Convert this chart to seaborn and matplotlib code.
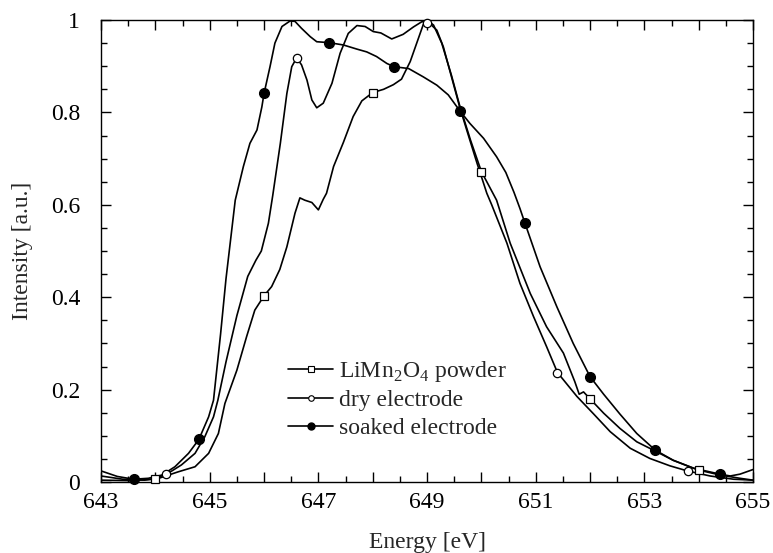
import numpy as np
import pandas as pd
import matplotlib
matplotlib.use('Agg')
import matplotlib.pyplot as plt
from matplotlib.lines import Line2D
from matplotlib.ticker import MultipleLocator, FuncFormatter
import seaborn as sns

# Curvas
soaked_e = [643.0, 643.3, 643.6, 643.87, 644.12, 644.36, 644.61, 644.8, 644.98, 645.07,
            645.2, 645.3, 645.47, 645.62, 645.74, 645.87, 645.96, 646.0, 646.11, 646.2,
            646.33, 646.48, 646.57, 646.69, 646.85, 646.97, 647.2, 647.46, 647.71, 647.89,
            648.07, 648.26, 648.39, 648.66, 648.93, 649.18, 649.39, 649.6, 649.79, 650.04,
            650.28, 650.45, 650.6, 650.71, 650.8, 651.08, 651.39, 651.69, 652.0, 652.25, 652.55,
            652.86, 653.2, 653.53, 653.9, 654.39, 654.58, 654.76, 655.0]
soaked_i = [0.024, 0.012, 0.006, 0.008, 0.015, 0.033, 0.062, 0.092, 0.141, 0.177,
            0.32, 0.44, 0.61, 0.683, 0.733, 0.762, 0.812, 0.841, 0.899, 0.95,
            0.986, 0.998, 0.997, 0.982, 0.964, 0.953, 0.951, 0.946, 0.937, 0.931,
            0.921, 0.906, 0.899, 0.895, 0.877, 0.859, 0.838, 0.804, 0.776, 0.744,
            0.704, 0.67, 0.627, 0.592, 0.561, 0.466, 0.379, 0.30, 0.228, 0.19, 0.147,
            0.105, 0.069, 0.047, 0.03, 0.017, 0.013, 0.017, 0.027]

dry_e = [643.0, 643.4, 643.8, 644.0, 644.21, 644.48, 644.73, 644.91, 645.07, 645.15,
         645.3, 645.5, 645.7, 645.85, 645.95, 646.08, 646.16, 646.3, 646.42, 646.51,
         646.6, 646.69, 646.79, 646.88, 646.97, 647.09, 647.25, 647.4, 647.55, 647.71,
         647.86, 648.01, 648.15, 648.35, 648.56, 648.75, 648.9, 649.0, 649.18, 649.3,
         649.45, 649.6, 649.73, 649.92, 650.1, 650.19, 650.47, 650.71, 650.96, 651.2,
         651.4, 651.76, 652.06, 652.37, 652.74, 653.1, 653.47, 653.79, 654.21, 654.64, 655.0]
dry_i = [0.013, 0.006, 0.004, 0.008, 0.017, 0.037, 0.062, 0.098, 0.141, 0.177,
         0.26, 0.36, 0.445, 0.48, 0.50, 0.56, 0.62, 0.733, 0.841, 0.899,
         0.918, 0.903, 0.87, 0.827, 0.81, 0.82, 0.863, 0.928, 0.971, 0.988,
         0.986, 0.975, 0.972, 0.959, 0.969, 0.985, 0.996, 0.998, 0.978, 0.942,
         0.877, 0.812, 0.762, 0.69, 0.625, 0.60, 0.517, 0.43, 0.358, 0.293,
         0.237, 0.185, 0.148, 0.109, 0.073, 0.051, 0.035, 0.024, 0.013, 0.006, 0.004]

powder_e = [643.0, 643.5, 644.01, 644.42, 644.73, 644.98, 645.16, 645.28, 645.5, 645.68,
            645.83, 646.0, 646.14, 646.29, 646.42, 646.57, 646.66, 646.75, 646.88, 647.0,
            647.09, 647.15, 647.28, 647.46, 647.64, 647.8, 648.0, 648.2, 648.38, 648.53,
            648.69, 648.81, 648.93, 649.0, 649.12, 649.27, 649.45, 649.6, 649.8, 650.0,
            650.28, 650.53, 650.9, 651.2, 651.51, 651.72, 651.8, 651.88, 652.0, 652.25,
            652.55, 652.86, 653.2, 653.53, 653.99, 654.4, 654.76, 655.0]
powder_i = [0.004, 0.003, 0.006, 0.022, 0.033, 0.062, 0.105, 0.17, 0.242, 0.315,
            0.372, 0.403, 0.423, 0.46, 0.509, 0.582, 0.615, 0.61, 0.605, 0.589,
            0.612, 0.625, 0.683, 0.735, 0.791, 0.825, 0.843, 0.85, 0.86, 0.872,
            0.91, 0.95, 0.99, 1.0, 0.989, 0.95, 0.88, 0.815, 0.74, 0.672,
            0.61, 0.517, 0.408, 0.336, 0.279, 0.217, 0.19, 0.195, 0.18, 0.149,
            0.116, 0.087, 0.067, 0.047, 0.026, 0.015, 0.008, 0.004]

# Marcadores
soaked_mk_e = [643.6, 644.8, 646.0, 647.2, 648.4, 649.6, 650.8, 652.0, 653.2, 654.4]
soaked_mk_i = [0.006, 0.092, 0.842, 0.951, 0.899, 0.804, 0.561, 0.228, 0.069, 0.017]
dry_mk_e = [644.2, 646.6, 649.0, 651.4, 653.8]
dry_mk_i = [0.017, 0.918, 0.994, 0.237, 0.024]
powder_mk_e = [644.0, 646.0, 648.0, 650.0, 652.0, 654.0]
powder_mk_i = [0.006, 0.403, 0.843, 0.672, 0.18, 0.025]

labels = ['LiMn$_\\mathregular{2}$O$_\\mathregular{4}$ powder', 'dry electrode', 'soaked electrode']

sns.set_style('ticks')
plt.rcParams['font.family'] = ['Liberation Serif', 'DejaVu Serif']
plt.rcParams['mathtext.fontset'] = 'custom'
plt.rcParams['mathtext.rm'] = 'Liberation Serif'
plt.rcParams['axes.edgecolor'] = 'black'
plt.rcParams['axes.linewidth'] = 1.0

fig = plt.figure(figsize=(7.73, 5.53), dpi=100)
ax = fig.add_axes([0.1307, 0.1284, 0.8435, 0.8354])

curvas = [(powder_e, powder_i), (dry_e, dry_i), (soaked_e, soaked_i)]
for e, i in curvas:
    df = pd.DataFrame({'energia': e, 'intensidade': i})
    sns.lineplot(data=df, x='energia', y='intensidade', color='black', linewidth=1.2,
                 estimator=None, sort=False, ax=ax)

ax.plot(powder_mk_e, powder_mk_i, linestyle='none', marker='s', ms=6, mfc='white',
        mec='black', mew=0.9, clip_on=False, zorder=3)
ax.plot(dry_mk_e, dry_mk_i, linestyle='none', marker='o', ms=6, mfc='white',
        mec='black', mew=0.9, clip_on=False, zorder=3)
ax.plot(soaked_mk_e, soaked_mk_i, linestyle='none', marker='o', ms=7, mfc='black',
        mec='black', clip_on=False, zorder=3)

ax.set_xlim(643, 655)
ax.set_ylim(0, 1)
ax.set_xlabel('Energy [eV]', fontsize=17, labelpad=14)
ax.set_ylabel('Intensity [a.u.]', fontsize=17, labelpad=13)

ax.xaxis.set_major_locator(MultipleLocator(1))
ax.xaxis.set_minor_locator(MultipleLocator(0.5))
ax.xaxis.set_major_formatter(FuncFormatter(lambda v, p: '%d' % round(v) if round(v) % 2 == 1 else ''))
ax.yaxis.set_major_locator(MultipleLocator(0.2))
ax.yaxis.set_minor_locator(MultipleLocator(0.05))
ax.yaxis.set_major_formatter(FuncFormatter(lambda v, p: '%g' % round(v, 1)))
ax.tick_params(which='both', direction='in', top=True, right=True, labelsize=17, colors='black')
ax.tick_params(which='major', length=7, width=1.0)
ax.tick_params(axis='x', which='major', pad=7)
ax.tick_params(axis='y', which='major', pad=15)
ax.tick_params(which='minor', length=4, width=1.0)

handles = [
    Line2D([], [], color='black', lw=1.2, marker='s', ms=4, mfc='white', mec='black', mew=0.8),
    Line2D([], [], color='black', lw=1.2, marker='o', ms=4, mfc='white', mec='black', mew=0.8),
    Line2D([], [], color='black', lw=1.2, marker='o', ms=5, mfc='black', mec='black'),
]
ax.legend(handles, labels, loc='center left', bbox_to_anchor=(0.287, 0.18), frameon=False,
          fontsize=17, borderpad=0, borderaxespad=0, handlelength=1.9, handletextpad=0.25,
          labelspacing=0.25)

plt.savefig('out.png', dpi=100)
